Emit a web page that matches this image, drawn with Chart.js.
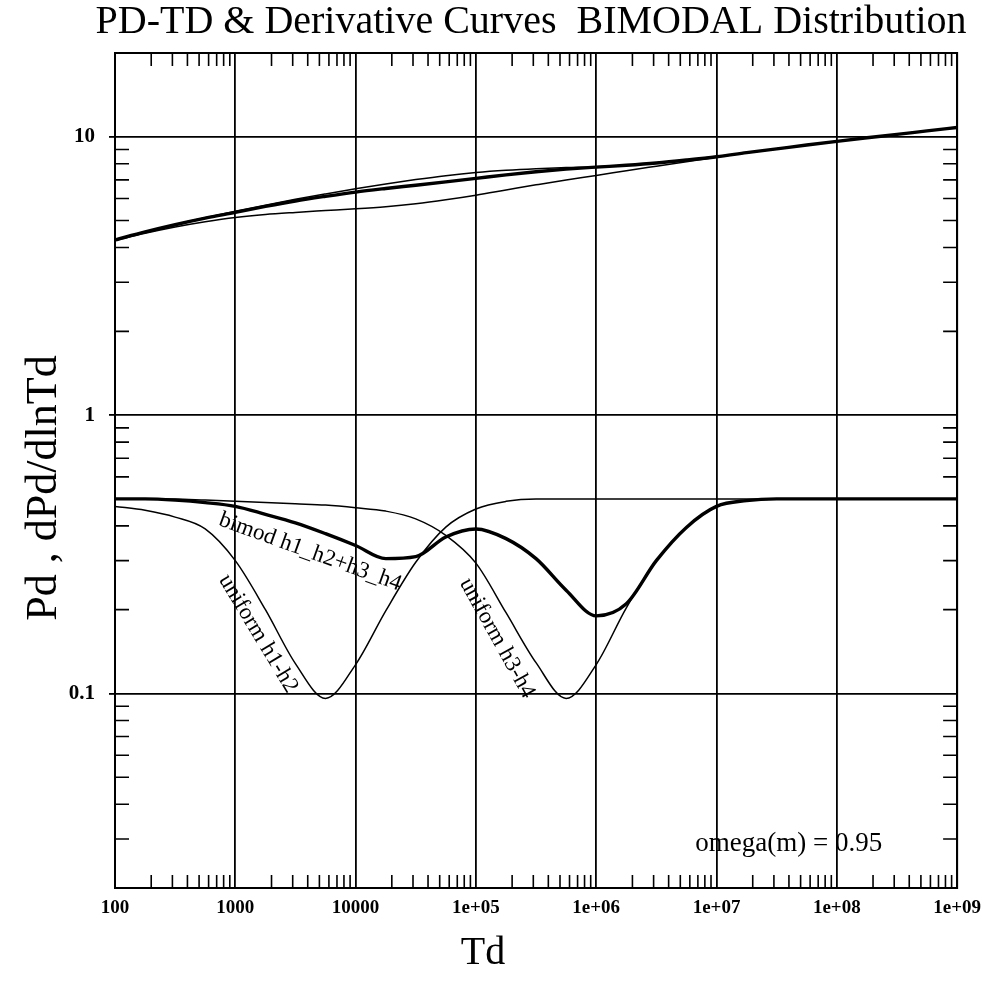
<!DOCTYPE html>
<html>
<head>
<meta charset="utf-8">
<script src="https://cdn.jsdelivr.net/npm/chart.js@4.4.1/dist/chart.umd.min.js"></script>
<style>
  html, body { margin: 0; padding: 0; background: #fff; }
</style>
</head>
<body>
<canvas id="pdChart" width="990" height="989"></canvas>
<script>
// ── Values (Td at quarter decades) ────────────────────────────
const td = [1e2, 1.78e2, 3.16e2, 5.62e2, 1e3, 1.78e3, 3.16e3, 5.62e3, 1e4, 1.78e4,
            3.16e4, 5.62e4, 1e5, 1.78e5, 3.16e5, 5.62e5, 1e6, 1.78e6, 3.16e6, 5.62e6,
            1e7, 1.78e7, 3.16e7, 5.62e7, 1e8, 1.78e8, 3.16e8, 5.62e8, 1e9];

const pdBimod = [4.26, 4.55, 4.83, 5.10, 5.35, 5.62, 5.88, 6.11, 6.33, 6.52,
                 6.70, 6.89, 7.09, 7.30, 7.49, 7.65, 7.78, 7.90, 8.05, 8.25,
                 8.48, 8.77, 9.05, 9.34, 9.63, 9.92, 10.2, 10.5, 10.8];
const pdH1H2  = [4.24, 4.50, 4.74, 4.95, 5.13, 5.26, 5.35, 5.43, 5.51, 5.61,
                 5.75, 5.94, 6.17, 6.44, 6.72, 7.00, 7.26, 7.55, 7.84, 8.14,
                 8.45, 8.76, 9.05, 9.34, 9.63, 9.92, 10.2, 10.5, 10.8];
const pdH3H4  = [4.26, 4.55, 4.84, 5.12, 5.40, 5.68, 5.96, 6.23, 6.50, 6.77,
                 7.02, 7.25, 7.44, 7.58, 7.68, 7.75, 7.81, 7.91, 8.05, 8.25,
                 8.49, 8.77, 9.05, 9.34, 9.63, 9.92, 10.2, 10.5, 10.8];

const derBimod = [0.50, 0.50, 0.495, 0.485, 0.47, 0.44, 0.41, 0.375, 0.34, 0.305,
                  0.31, 0.365, 0.39, 0.36, 0.305, 0.235, 0.19, 0.21, 0.30, 0.395,
                  0.47, 0.493, 0.50, 0.50, 0.50, 0.50, 0.50, 0.50, 0.50];
const derH1H2  = [0.47, 0.455, 0.43, 0.39, 0.30, 0.20, 0.128, 0.096, 0.127, 0.198,
                  0.296, 0.396, 0.46, 0.49, 0.50, 0.50, 0.50, 0.50, 0.50, 0.50,
                  0.50, 0.50, 0.50, 0.50, 0.50, 0.50, 0.50, 0.50, 0.50];
const derH3H4  = [0.50, 0.50, 0.50, 0.495, 0.49, 0.485, 0.48, 0.475, 0.465, 0.452,
                  0.424, 0.37, 0.294, 0.195, 0.129, 0.096, 0.127, 0.203, 0.30, 0.395,
                  0.47, 0.493, 0.50, 0.50, 0.50, 0.50, 0.50, 0.50, 0.50];

const xTickValues = [1e2, 1e3, 1e4, 1e5, 1e6, 1e7, 1e8, 1e9];
const xTickLabels = ['100', '1000', '10000', '1e+05', '1e+06', '1e+07', '1e+08', '1e+09'];
const yTickValues = [0.1, 1, 10];
const yTickLabels = ['0.1', '1', '10'];

const xMin = 1e2, xMax = 1e9, yMin = 0.02, yMax = 20;

// annotations placed in data space
const curveLabels = [
  { text: 'bimod h1_h2+h3_h4', td: 4200, v: 0.322, angle: 20 },
  { text: 'uniform h1-h2',     td: 1549, v: 0.164, angle: 59 },
  { text: 'uniform h3-h4',     td: 1.5e5, v: 0.158, angle: 61 },
];
const noteText = { text: 'omega(m) = 0.95', td: 3.98e7, v: 0.0288 };

const SERIF = "'Liberation Serif', 'Times New Roman', serif";
const pts = arr => td.map((x, i) => ({ x, y: arr[i] }));

function curve(label, arr, thick) {
  return {
    label,
    data: pts(arr),
    borderColor: '#000',
    borderWidth: thick ? 3.4 : 1.5,
    pointRadius: 0,
    fill: false,
    cubicInterpolationMode: 'monotone',
  };
}

// ── Frame, minor ticks and free text ─────────────────────────
const textLayer = {
  id: 'textLayer',
  afterDraw(chart) {
    const { ctx, chartArea: a, scales: { x, y } } = chart;
    ctx.save();
    ctx.strokeStyle = '#000';
    ctx.lineWidth = 2;
    ctx.strokeRect(a.left, a.top, a.right - a.left, a.bottom - a.top);

    ctx.lineWidth = 1.6;
    ctx.beginPath();
    for (let d = 2; d < 9; d++) {
      for (let m = 2; m <= 9; m++) {
        const px = x.getPixelForValue(m * 10 ** d);
        ctx.moveTo(px, a.bottom); ctx.lineTo(px, a.bottom - 13);
        ctx.moveTo(px, a.top);    ctx.lineTo(px, a.top + 13);
      }
    }
    for (let d = -2; d <= 1; d++) {
      for (let m = 2; m <= 9; m++) {
        const v = m * 10 ** d;
        if (v <= yMin + 1e-9 || v >= yMax - 1e-9) continue;
        const py = y.getPixelForValue(v);
        ctx.moveTo(a.left, py);  ctx.lineTo(a.left + 14, py);
        ctx.moveTo(a.right, py); ctx.lineTo(a.right - 14, py);
      }
    }
    ctx.stroke();

    ctx.fillStyle = '#000';
    ctx.textAlign = 'center';
    ctx.textBaseline = 'middle';

    // curve labels
    ctx.font = `23px ${SERIF}`;
    curveLabels.forEach(l => {
      ctx.save();
      ctx.translate(x.getPixelForValue(l.td), y.getPixelForValue(l.v));
      ctx.rotate(l.angle * Math.PI / 180);
      ctx.fillText(l.text, 0, 0);
      ctx.restore();
    });

    ctx.font = `27px ${SERIF}`;
    ctx.fillText(noteText.text, x.getPixelForValue(noteText.td), y.getPixelForValue(noteText.v));

    // title and axis titles
    ctx.font = `40px ${SERIF}`;
    ctx.textBaseline = 'alphabetic';
    ctx.fillText('PD-TD & Derivative Curves  BIMODAL Distribution', 531, 33);
    ctx.fillText('Td', 483, 964);
    ctx.font = `44px ${SERIF}`;
    ctx.save();
    ctx.translate(56, 488);
    ctx.rotate(-Math.PI / 2);
    ctx.fillText('Pd , dPd/dlnTd', 0, 0);
    ctx.restore();
    ctx.restore();
  }
};

new Chart(document.getElementById('pdChart'), {
  type: 'line',
  data: {
    datasets: [
      curve('bimod Pd', pdBimod, true),
      curve('uniform h1-h2 Pd', pdH1H2, false),
      curve('uniform h3-h4 Pd', pdH3H4, false),
      curve('bimod h1_h2+h3_h4', derBimod, true),
      curve('uniform h1-h2', derH1H2, false),
      curve('uniform h3-h4', derH3H4, false),
    ]
  },
  options: {
    responsive: false,
    animation: false,
    devicePixelRatio: 1,
    layout: { padding: { top: 53, right: 32, left: 0, bottom: 0 } },
    plugins: {
      legend: { display: false },
      title: { display: false },
      tooltip: { enabled: false },
    },
    scales: {
      x: {
        type: 'logarithmic',
        min: xMin,
        max: xMax,
        afterFit: s => { s.height = 101; },
        afterBuildTicks: s => { s.ticks = xTickValues.map(value => ({ value })); },
        grid: { color: '#000', lineWidth: 1.8, drawTicks: false },
        border: { display: true, color: '#000', width: 2 },
        ticks: {
          autoSkip: false,
          maxRotation: 0,
          padding: 9,
          color: '#000',
          font: { family: SERIF, size: 19, weight: 'bold' },
          callback: (v, i) => xTickLabels[i],
        }
      },
      y: {
        type: 'logarithmic',
        min: yMin,
        max: yMax,
        afterFit: s => { s.width = 115; },
        afterBuildTicks: s => { s.ticks = yTickValues.map(value => ({ value })); },
        grid: { color: '#000', lineWidth: 1.8, drawTicks: true, tickLength: 6 },
        border: { display: true, color: '#000', width: 2 },
        ticks: {
          autoSkip: false,
          padding: 14,
          color: '#000',
          font: { family: SERIF, size: 21, weight: 'bold' },
          callback: (v, i) => yTickLabels[i],
        }
      }
    }
  },
  plugins: [textLayer]
});
</script>
</body>
</html>
